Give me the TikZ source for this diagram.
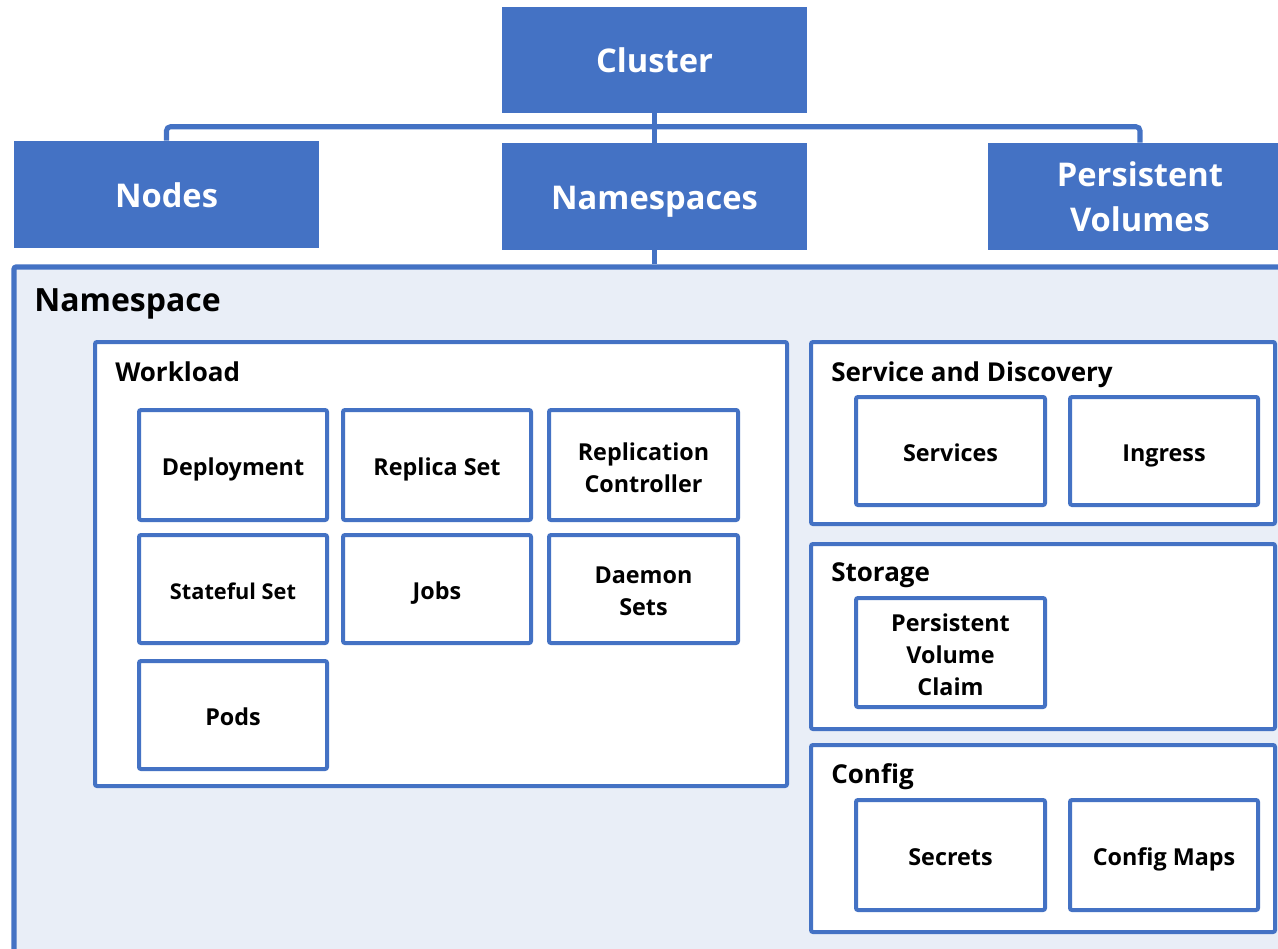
\documentclass[tikz,border=0pt]{standalone}
\usepackage{fontspec}
\IfFontExistsTF{Open Sans ExtraBold}{\setmainfont{Open Sans}[BoldFont={Open Sans ExtraBold}]}{\setmainfont{Open Sans}}
\usetikzlibrary{fit}
\definecolor{kblue}{HTML}{4472C4}
\definecolor{kfill}{HTML}{E9EEF7}
\begin{document}
\begin{tikzpicture}[x=0.75pt,y=-0.75pt,
  top/.style={fill=kblue,draw=none,inner sep=0pt},
  toplbl/.style={text=white,inner sep=0pt,font=\bfseries\fontsize{24.5}{34}\selectfont,align=center},
  topone/.style={toplbl,anchor=base,yshift=-9.4pt},
  group/.style={fill=white,draw=kblue,line width=3pt,rounded corners=1.5pt,inner sep=0pt},
  item/.style={fill=white,draw=kblue,line width=3pt,rounded corners=1.5pt,inner sep=0pt},
  ilbl/.style={inner sep=0pt,font=\bfseries\fontsize{17.5}{24}\selectfont,align=center},
  imulti/.style={ilbl,yshift=-1.8pt},
  ione/.style={ilbl,anchor=base,yshift=-7.8pt},
  gtitle/.style={anchor=base west,inner sep=0pt,font=\bfseries\fontsize{19.5}{22}\selectfont},
  conn/.style={draw=kblue,line width=3.8pt,rounded corners=3pt}]
\useasboundingbox (0,0) rectangle (1278,949);
\clip (0,0) rectangle (1278,949);
% outer namespace box
\node[fit={(14,267) (1300,970)},fill=kfill,draw=kblue,line width=3.8pt,rounded corners=1.5pt,inner sep=0pt] (ns) {};
% top level
\node[top,fit={(502,7) (807,113)}] (cluster) {};
\node[topone] at (cluster.center) (clusterlbl) {Cluster};
\node[top,fit={(14,141) (319,248)}] (nodes) {};
\node[topone] at (nodes.center) (nodeslbl) {Nodes};
\node[top,fit={(502,143) (807,250)}] (namespaces) {};
\node[topone] at (namespaces.center) (namespaceslbl) {Namespaces};
\node[top,fit={(988,143) (1292,250)}] (pv) {};
\node[toplbl] at (pv.center) (pvlbl) {Persistent\\Volumes};
% connectors
\draw[conn] (cluster.south) -- (namespaces.north);
\draw[conn] (nodes.north) -- ++(0,-14) -| (pv.north);
\draw[conn] (namespaces.south) -- (namespaces.south |- ns.north);
\node[anchor=base west,inner sep=0pt,font=\bfseries\fontsize{24}{26}\selectfont] (nstitle) at (34,311) {Namespace};
% workload
\node[group,fit={(95,342) (787,786)}] (workload) {};
\node[gtitle] (wltitle) at (115,381) {Workload};
\node[item,fit={(139,410) (327,520)}] (deploy) {};
\node[ione] at (deploy.center) (deploylbl) {Deployment};
\node[item,fit={(343,410) (531,520)}] (rs) {};
\node[ione] at (rs.center) (rslbl) {Replica Set};
\node[item,fit={(549,410) (738,520)}] (rc) {};
\node[imulti] at (rc.center) (rclbl) {Replication\\Controller};
\node[item,fit={(139,535) (327,643)}] (ss) {};
\node[ione,font=\bfseries\fontsize{16.3}{24}\selectfont] at (ss.center) (sslbl) {Stateful Set};
\node[item,fit={(343,535) (531,643)}] (jobs) {};
\node[ione] at (jobs.center) (jobslbl) {Jobs};
\node[item,fit={(549,535) (738,643)}] (ds) {};
\node[imulti] at (ds.center) (dslbl) {Daemon\\Sets};
\node[item,fit={(139,661) (327,769)}] (pods) {};
\node[ione] at (pods.center) (podslbl) {Pods};
% service and discovery
\node[group,fit={(811,342) (1275,524)}] (sd) {};
\node[gtitle] (sdtitle) at (831,381) {Service and Discovery};
\node[item,fit={(856,397) (1045,505)}] (svc) {};
\node[ione] at (svc.center) (svclbl) {Services};
\node[item,fit={(1070,397) (1258,505)}] (ing) {};
\node[ione] at (ing.center) (inglbl) {Ingress};
% storage
\node[group,fit={(811,544) (1275,729)}] (storage) {};
\node[gtitle] (sttitle) at (831,581) {Storage};
\node[item,fit={(856,598) (1045,707)}] (pvc) {};
\node[imulti] at (pvc.center) (pvclbl) {Persistent\\Volume\\Claim};
% config
\node[group,fit={(811,745) (1275,932)}] (config) {};
\node[gtitle] (cftitle) at (831,783) {Config};
\node[item,fit={(856,800) (1045,910)}] (sec) {};
\node[ione] at (sec.center) (seclbl) {Secrets};
\node[item,fit={(1070,800) (1258,910)}] (cm) {};
\node[ione] at (cm.center) (cmlbl) {Config Maps};
\end{tikzpicture}
\end{document}
